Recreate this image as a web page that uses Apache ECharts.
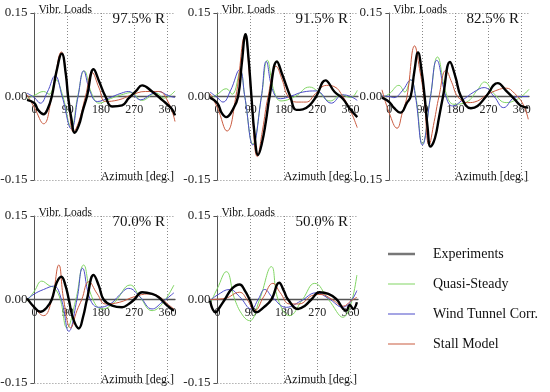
<!DOCTYPE html>
<html>
<head>
<meta charset="utf-8">
<script src="https://cdn.jsdelivr.net/npm/echarts@6/dist/echarts.min.js"></script>
<style>html,body{margin:0;padding:0;background:#fff}#c{width:550px;height:392px}</style>
</head>
<body>
<div id="c"></div>
<script>
// ---- Data (azimuth deg, vibratory load) ----
const seriesNames = ['Quasi-Steady', 'Wind Tunnel Corr.', 'Stall Model', 'Experiments'];
const panelLabels = ['97.5% R', '91.5% R', '82.5% R', '70.0% R', '50.0% R'];
const xTickValues = [0, 90, 180, 270, 360];
const yTickValues = [-0.15, 0, 0.15];

// 97.5% R
const quasi975 = [[-20,-0.004],[0,0.002],[25,0.009],[40,0.004],[58,0.030],[75,0.005],[100,-0.055],[117,0],[135,0.046],[155,0.005],[175,-0.012],[205,-0.004],[240,0.004],[262,0.007],[290,-0.007],[330,0.006],[350,-0.003],[380,0.010]];
const wind975 = [[-20,0.006],[0,-0.002],[16,-0.012],[35,0.008],[56,0.037],[75,0],[100,-0.058],[118,0],[133,0.046],[150,0.010],[170,-0.009],[200,-0.003],[235,0.006],[255,0.009],[287,-0.006],[315,0.004],[336,0.009],[360,0.002],[380,-0.002]];
const stall975 = [[-20,0.003],[0,-0.020],[25,-0.049],[47,0],[73,0.080],[90,0.010],[106,-0.064],[120,-0.045],[138,0],[156,0.043],[175,0.015],[192,-0.009],[228,-0.006],[260,0.002],[300,0.009],[336,0.009],[363,-0.012],[380,-0.045]];
const exp975 = [[-20,-0.006],[0,-0.012],[10,-0.024],[25,-0.032],[36,-0.022],[47,0],[60,0.046],[74,0.077],[85,0.040],[91,0],[100,-0.040],[109,-0.065],[120,-0.052],[131,-0.025],[142,0],[160,0.049],[175,0.027],[192,0],[210,-0.018],[237,-0.016],[255,-0.003],[275,0.010],[291,0.020],[318,0.009],[345,-0.006],[372,-0.023],[380,-0.034]];

// 91.5% R
const quasi915 = [[-20,-0.004],[0,0.004],[24,0.014],[40,0.004],[62,0.045],[74,0],[96,-0.085],[119,0],[135,0.065],[153,0.010],[172,-0.008],[210,0.000],[249,0.017],[270,0.010],[305,-0.008],[335,0.003],[360,-0.002],[378,0.011]];
const wind915 = [[-20,0.008],[0,-0.002],[15,-0.010],[35,0.010],[60,0.048],[74,0],[96,-0.087],[119,0],[132,0.063],[150,0.010],[170,-0.004],[200,0.001],[231,0.008],[267,0.010],[308,-0.012],[338,0.003],[360,0.000],[378,-0.007]];
const stall915 = [[-20,0.005],[0,-0.020],[26,-0.062],[50,0],[74,0.108],[90,0.010],[108,-0.108],[122,-0.060],[137,0],[159,0.054],[175,0.030],[191,0],[213,-0.010],[240,-0.010],[265,0.005],[295,0.020],[315,0.018],[340,-0.001],[362,-0.029],[378,-0.056]];
const exp915 = [[-20,-0.002],[0,-0.012],[12,-0.030],[24,-0.037],[42,-0.023],[56,0],[66,0.060],[76,0.112],[84,0.070],[92,0],[100,-0.065],[110,-0.105],[120,-0.085],[131,-0.045],[141,0],[161,0.063],[175,0.040],[197,0],[213,-0.024],[231,-0.023],[249,-0.016],[267,0],[292,0.029],[317,0.008],[339,-0.004],[357,-0.021],[378,-0.037]];

// 82.5% R
const quasi825 = [[-20,-0.002],[0,0.005],[26,0.020],[42,0.008],[58,0.030],[72,0],[90,-0.085],[112,0],[131,0.071],[155,0.005],[176,-0.014],[210,-0.010],[240,0.012],[259,0.026],[285,0.005],[318,-0.011],[345,-0.006],[365,0.003],[380,0.013]];
const wind825 = [[-20,0.001],[0,0.000],[12,-0.002],[35,0.010],[58,0.030],[71,0],[90,-0.087],[112,0],[129,0.065],[154,0],[172,-0.017],[200,-0.006],[230,0.008],[258,0.016],[285,0.000],[311,-0.020],[340,-0.002],[360,0.000],[378,0.000]];
const stall825 = [[-20,0.012],[0,-0.030],[21,-0.057],[35,-0.030],[48,0],[69,0.091],[82,0.050],[94,0],[108,-0.087],[122,-0.045],[135,0],[154,0.047],[170,0.025],[186,0],[213,-0.011],[240,-0.008],[265,0.003],[300,0.013],[318,0.015],[340,0.006],[364,-0.014],[378,-0.041]];
const exp825 = [[-20,-0.002],[0,-0.010],[12,-0.020],[30,-0.029],[48,-0.011],[58,0],[68,0.045],[78,0.079],[88,0.045],[96,0],[104,-0.055],[112,-0.090],[124,-0.075],[135,-0.038],[146,0],[165,0.062],[180,0.035],[195,0],[222,-0.021],[240,-0.017],[263,0],[295,0.024],[318,0.010],[341,-0.005],[359,-0.017],[378,-0.020]];

// 70.0% R
const quasi700 = [[-20,-0.003],[0,0.015],[20,0.033],[40,0.025],[55,0.020],[70,0],[88,-0.051],[112,0],[133,0.062],[155,0.005],[183,-0.017],[215,-0.006],[259,0.026],[285,0.005],[318,-0.020],[345,-0.008],[377,0.026]];
const wind700 = [[-20,0.000],[0,0.010],[25,0.018],[52,0.024],[73,0],[93,-0.057],[115,0],[130,0.056],[151,0],[174,-0.014],[205,-0.008],[230,0.008],[255,0.020],[285,0.005],[318,-0.017],[345,-0.005],[377,0.012]];
const stall700 = [[-20,0.001],[0,-0.015],[25,-0.029],[47,0],[66,0.062],[79,0],[98,-0.051],[115,-0.020],[128,0],[147,0.032],[170,0.010],[192,-0.008],[230,-0.005],[270,0.005],[309,0.010],[335,0.006],[360,-0.008],[377,-0.017]];
const exp700 = [[-20,0.002],[0,-0.014],[16,-0.022],[34,-0.014],[47,0],[60,0.030],[73,0.041],[84,0.025],[93,0],[105,-0.035],[120,-0.052],[132,-0.030],[142,0],[160,0.044],[174,0.025],[187,0],[210,-0.011],[237,-0.014],[255,-0.008],[270,0],[291,0.013],[318,0.010],[336,0.004],[359,-0.011],[377,-0.020]];

// 50.0% R
const quasi500 = [[-20,-0.008],[0,0.020],[24,0.050],[47,0],[70,-0.030],[87,-0.038],[114,0],[146,0.059],[164,0],[195,-0.029],[230,0.000],[263,0.029],[300,0.000],[339,-0.032],[377,0.044]];
const wind500 = [[-20,-0.002],[0,0.008],[33,0.018],[60,0.005],[92,-0.017],[110,0],[128,0.018],[150,0.003],[186,-0.014],[225,-0.003],[267,0.012],[300,0.002],[339,-0.014],[377,0.016]];
const stall500 = [[-20,0.000],[20,0.002],[60,0.013],[80,0.000],[101,-0.020],[125,0.005],[150,0.029],[170,0.012],[195,-0.008],[220,-0.008],[260,0.008],[280,0.009],[310,0.000],[340,-0.012],[360,-0.003],[377,0.004]];
const exp500 = [[-20,-0.002],[-5,-0.023],[8,-0.012],[20,0],[40,0.020],[60,0.027],[75,0.015],[87,0],[105,-0.023],[125,-0.014],[146,0],[167,0.030],[180,0.015],[191,0],[218,-0.017],[235,-0.012],[254,0],[276,0.013],[300,0.010],[321,0.001],[348,-0.020],[358,-0.010],[367,-0.017],[377,-0.005]];

const panelData = [
  [quasi975, wind975, stall975, exp975],
  [quasi915, wind915, stall915, exp915],
  [quasi825, wind825, stall825, exp825],
  [quasi700, wind700, stall700, exp700],
  [quasi500, wind500, stall500, exp500]
];

// ---- Layout & style ----
const FONT = '"Liberation Serif", "DejaVu Serif", serif';
const panels = [
  {left: 27, top: 13, width: 148, height: 167},
  {left: 210, top: 13, width: 148, height: 167},
  {left: 382, top: 13, width: 147, height: 167},
  {left: 27, top: 216, width: 148, height: 167},
  {left: 210, top: 216, width: 148, height: 167}
];
const colors = ['#80d563', '#4b4bc8', '#c95a3f', '#000000'];
const widths = [1, 1, 1, 2.4];
const X_MIN = -20, X_MAX = 380, AX_MIN = 0, AX_MAX = 360;
const Y_MIN = -0.15, Y_MAX = 0.15, Y_STEP = 0.15;

const grids = [], xAxes = [], yAxes = [], series = [], graphics = [];
const N = panels.length;
// data grids (wide azimuth range)
panels.forEach((g) => {
  grids.push({left: g.left, top: g.top, width: g.width, height: g.height, containLabel: false, outerBoundsMode: 'none'});
});
// axis grids (0..360 sub-range, for the y axis and tick labels)
panels.forEach((g) => {
  const pxPerDeg = g.width / (X_MAX - X_MIN);
  grids.push({left: g.left + (AX_MIN - X_MIN) * pxPerDeg, top: g.top, width: (AX_MAX - AX_MIN) * pxPerDeg, height: g.height, containLabel: false, outerBoundsMode: 'none'});
});

panels.forEach((g, i) => {
  xAxes.push({
    type: 'value', gridIndex: i, min: X_MIN, max: X_MAX,
    axisLine: {onZero: true, lineStyle: {color: '#555', width: 1.3}},
    axisTick: {show: false}, splitLine: {show: false}, axisLabel: {show: false}
  });
  yAxes.push({
    type: 'value', gridIndex: i, min: Y_MIN, max: Y_MAX, interval: Y_STEP,
    axisLine: {show: false}, axisTick: {show: false}, splitLine: {show: false}, axisLabel: {show: false}
  });
});
panels.forEach((g, i) => {
  xAxes.push({
    type: 'value', gridIndex: N + i, min: AX_MIN, max: AX_MAX, interval: 90,
    position: 'bottom', offset: -g.height / 2,
    axisLine: {show: false, onZero: false}, axisTick: {show: false},
    splitLine: {show: true, lineStyle: {type: [1, 2], color: '#888', width: 1}},
    axisLabel: {fontFamily: FONT, fontSize: 12, color: '#222', margin: 7}
  });
  yAxes.push({
    type: 'value', gridIndex: N + i, min: Y_MIN, max: Y_MAX, interval: Y_STEP,
    position: 'left',
    axisLine: {show: true, onZero: false, lineStyle: {color: '#555', width: 1}},
    axisTick: {show: true, length: 4, lineStyle: {color: '#555'}},
    splitLine: {show: false},
    axisLabel: {fontFamily: FONT, fontSize: 13, color: '#222', margin: 7, formatter: v => v.toFixed(2)}
  });

  const axisPx = grids[N + i].left;
  graphics.push({type: 'text', x: axisPx + 4, y: g.top - 3, style: {text: 'Vibr. Loads', font: '11.5px ' + FONT, fill: '#111', verticalAlign: 'middle', align: 'left'}});
  graphics.push({type: 'text', x: g.left + g.width - 10, y: g.top + 6, style: {text: panelLabels[i], font: '15px ' + FONT, fill: '#111', verticalAlign: 'middle', align: 'right'}});
  graphics.push({type: 'text', x: g.left + g.width - 1, y: g.top + g.height - 3, style: {text: 'Azimuth [deg.]', font: '12px ' + FONT, fill: '#111', verticalAlign: 'middle', align: 'right'}});

  panelData[i].forEach((d, k) => {
    const s = {
      type: 'line', name: seriesNames[k], xAxisIndex: i, yAxisIndex: i,
      data: d, smooth: 0.45, showSymbol: false, symbol: 'none',
      lineStyle: {color: colors[k], width: widths[k]},
      itemStyle: {color: colors[k]},
      z: 3 + k
    };
    if (k === 0) {
      s.markLine = {
        silent: true, symbol: 'none', label: {show: false}, animation: false,
        lineStyle: {type: [1, 2], color: '#888', width: 1},
        data: [
          [{coord: [AX_MIN, Y_MAX]}, {coord: [X_MAX, Y_MAX]}],
          [{coord: [AX_MIN, Y_MIN]}, {coord: [X_MAX, Y_MIN]}]
        ]
      };
    }
    series.push(s);
  });
});

const chart = echarts.init(document.getElementById('c'), null, {renderer: 'canvas'});
chart.setOption({
  animation: false,
  grid: grids,
  xAxis: xAxes,
  yAxis: yAxes,
  series: series,
  graphic: graphics,
  legend: {
    orient: 'vertical', left: 388, top: 247, padding: 0,
    itemWidth: 27, itemHeight: 14, itemGap: 16,
    symbolKeepAspect: true,
    textStyle: {fontFamily: FONT, fontSize: 14, color: '#111', padding: [0, 0, 0, 13]},
    data: [
      {name: 'Experiments', icon: 'path://M0,0H27V2.5H0Z', itemStyle: {color: '#777'}},
      {name: 'Quasi-Steady', icon: 'path://M0,0H27V1H0Z'},
      {name: 'Wind Tunnel Corr.', icon: 'path://M0,0H27V1H0Z'},
      {name: 'Stall Model', icon: 'path://M0,0H27V1H0Z'}
    ]
  }
});
</script>
</body>
</html>
